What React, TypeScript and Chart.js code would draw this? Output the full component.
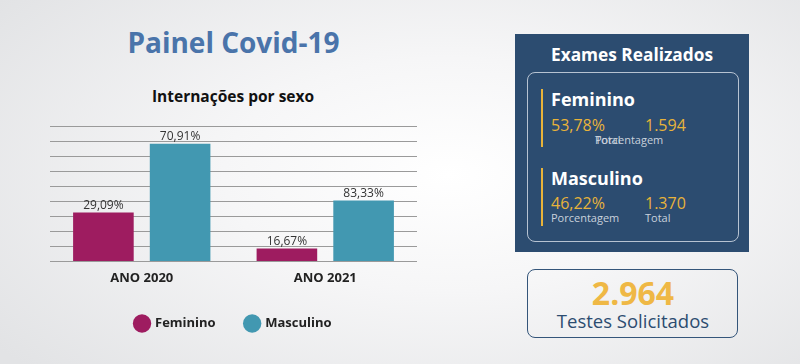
import React, { useEffect, useRef } from "react";
import { Chart, registerables } from "chart.js";

Chart.register(...registerables);

const categories = ["ANO 2020", "ANO 2021"];
const seriesNames = ["Feminino", "Masculino"];
const femininoHeights = [32.5, 8.5];
const masculinoHeights = [78.2, 40.5];
const femininoLabels = ["29,09%", "16,67%"];
const masculinoLabels = ["70,91%", "83,33%"];
const colors = ["#9e1c60", "#4298b1"];

const FONT = "'Open Sans', 'Noto Sans', sans-serif";

const valueLabelPlugin = {
  id: "valueLabels",
  afterDatasetsDraw(chart: any) {
    const ctx = chart.ctx;
    const labelSets = [femininoLabels, masculinoLabels];
    ctx.save();
    ctx.font = `12px ${FONT}`;
    ctx.fillStyle = "#333333";
    ctx.textAlign = "center";
    ctx.textBaseline = "bottom";
    chart.data.datasets.forEach((ds: any, di: number) => {
      const meta = chart.getDatasetMeta(di);
      meta.data.forEach((bar: any, i: number) => {
        ctx.fillText(labelSets[di][i], bar.x, bar.y - 1);
      });
    });
    ctx.restore();
  },
};

function BarChart() {
  const ref = useRef<HTMLCanvasElement>(null);
  useEffect(() => {
    if (!ref.current) return;
    const chart = new Chart(ref.current, {
      type: "bar",
      data: {
        labels: categories,
        datasets: [
          {
            label: seriesNames[0],
            data: femininoHeights,
            backgroundColor: colors[0],
            borderWidth: 0,
            categoryPercentage: 0.836,
            barPercentage: 0.79,
          },
          {
            label: seriesNames[1],
            data: masculinoHeights,
            backgroundColor: colors[1],
            borderWidth: 0,
            categoryPercentage: 0.836,
            barPercentage: 0.79,
          },
        ],
      },
      options: {
        animation: false,
        responsive: false,
        maintainAspectRatio: false,
        layout: { padding: { top: 18, left: 50, right: 53, bottom: 0 } },
        scales: {
          x: {
            grid: { display: false },
            border: { display: false },
            ticks: {
              color: "#222222",
              font: { family: FONT, size: 13, weight: "bold" },
              padding: 1,
            },
          },
          y: {
            min: 0,
            max: 90,
            ticks: { display: false, stepSize: 10 },
            border: { display: false },
            grid: { color: "#9a9a9a", lineWidth: 1, drawTicks: false },
          },
        },
        plugins: {
          tooltip: { enabled: false },
          title: { display: false },
          legend: {
            display: true,
            position: "bottom",
            labels: {
              usePointStyle: true,
              pointStyle: "circle",
              boxWidth: 14,
              boxHeight: 14,
              padding: 30,
              color: "#222222",
              font: { family: FONT, size: 13, weight: "bold" },
            },
          },
        },
      },
      plugins: [valueLabelPlugin],
    });
    return () => chart.destroy();
  }, []);
  return (
    <canvas
      ref={ref}
      width={470}
      height={232}
      style={{ position: "absolute", left: 0, top: 108, width: 470, height: 232 }}
    />
  );
}

export default function App() {
  useEffect(() => {
    document.body.style.margin = "0";
  }, []);
  const abs = (s: React.CSSProperties): React.CSSProperties => ({ position: "absolute", ...s });
  return (
    <div
      style={{
        position: "relative",
        width: 800,
        height: 364,
        overflow: "hidden",
        fontFamily: FONT,
        background: "radial-gradient(ellipse 70% 80% at 56% 48%, #ffffff 0%, #f6f6f7 40%, #e2e3e5 100%)",
      }}
    >
      <div style={abs({ left: 0, width: 467, top: 23, textAlign: "center", fontSize: 28, fontWeight: 700, color: "#4a74aa", lineHeight: "38px" })}>
        Painel Covid-19
      </div>
      <div style={abs({ left: 0, width: 466, top: 85, textAlign: "center", fontSize: 15.5, fontWeight: 700, color: "#111111", lineHeight: "22px" })}>
        Internações por sexo
      </div>
      <BarChart />

      {/* Exames Realizados panel */}
      <div style={abs({ left: 515, top: 34, width: 234, height: 218, background: "#2c4c70" })} />
      <div style={abs({ left: 515, top: 42, width: 234, textAlign: "center", color: "#ffffff", fontSize: 17.3, fontWeight: 700, lineHeight: "26px" })}>
        Exames Realizados
      </div>
      <div style={abs({ left: 527, top: 72, width: 210, height: 168, border: "1px solid #b7c3d2", borderRadius: 8 })} />

      <div style={abs({ left: 541, top: 89, width: 2, height: 58, background: "#e8b33a" })} />
      <div style={abs({ left: 551, top: 86, color: "#ffffff", fontSize: 18, fontWeight: 700, lineHeight: "26px" })}>Feminino</div>
      <div style={abs({ left: 551, top: 113, color: "#e8b33a", fontSize: 16, lineHeight: "24px" })}>53,78%</div>
      <div style={abs({ left: 645, top: 113, color: "#e8b33a", fontSize: 16, lineHeight: "24px" })}>1.594</div>
      <div style={abs({ left: 595, top: 132, color: "#c9d1dc", fontSize: 11, lineHeight: "16px" })}>Porcentagem</div>
      <div style={abs({ left: 595, top: 132, color: "#c9d1dc", fontSize: 11, lineHeight: "16px" })}>Total</div>

      <div style={abs({ left: 541, top: 168, width: 2, height: 58, background: "#e8b33a" })} />
      <div style={abs({ left: 551, top: 165, color: "#ffffff", fontSize: 18, fontWeight: 700, lineHeight: "26px" })}>Masculino</div>
      <div style={abs({ left: 551, top: 191, color: "#e8b33a", fontSize: 16, lineHeight: "24px" })}>46,22%</div>
      <div style={abs({ left: 645, top: 191, color: "#e8b33a", fontSize: 16, lineHeight: "24px" })}>1.370</div>
      <div style={abs({ left: 551, top: 210, color: "#c9d1dc", fontSize: 11, lineHeight: "16px" })}>Porcentagem</div>
      <div style={abs({ left: 645, top: 210, color: "#c9d1dc", fontSize: 11, lineHeight: "16px" })}>Total</div>

      {/* Testes Solicitados box */}
      <div style={abs({ left: 527, top: 269, width: 209, height: 67, border: "1.5px solid #34557a", borderRadius: 8 })} />
      <div style={abs({ left: 527, top: 273, width: 212, textAlign: "center", color: "#efb845", fontSize: 32, fontWeight: 700, lineHeight: "40px" })}>
        2.964
      </div>
      <div style={abs({ left: 527, top: 308, width: 212, textAlign: "center", color: "#2c4c70", fontSize: 18.5, lineHeight: "26px" })}>
        Testes Solicitados
      </div>
    </div>
  );
}
